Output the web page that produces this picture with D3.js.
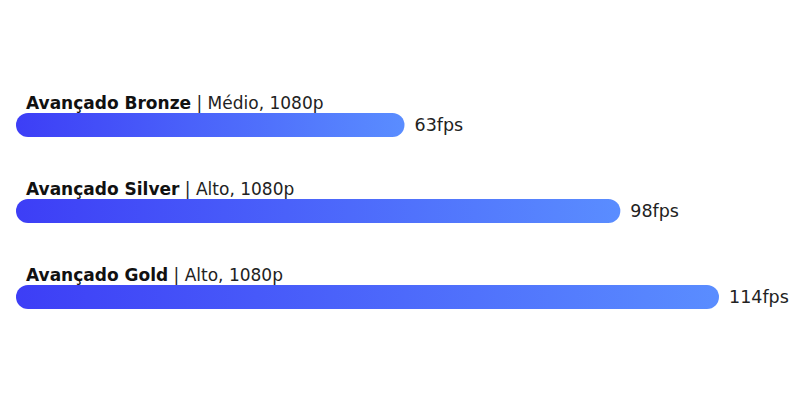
<!DOCTYPE html>
<html>
<head>
<meta charset="utf-8">
<script src="https://cdn.jsdelivr.net/npm/d3@7"></script>
<style>
  body { margin: 0; background: #fff; }
  text { font-family: "DejaVu Sans", sans-serif; fill: #111; }
</style>
</head>
<body>
<svg></svg>
<script>
const tiers = ["Avançado Bronze", "Avançado Silver", "Avançado Gold"];
const settings = ["Médio, 1080p", "Alto, 1080p", "Alto, 1080p"];
const fps = [63, 98, 114];

const width = 800, height = 400;
const svg = d3.select("svg")
    .attr("width", width)
    .attr("height", height);

// gradient shared by every bar (spans each bar's own box)
const grad = svg.append("defs").append("linearGradient")
    .attr("id", "barGrad")
    .attr("x1", "0%").attr("x2", "100%");
grad.append("stop").attr("offset", "0%").attr("stop-color", "#3d3ef6");
grad.append("stop").attr("offset", "100%").attr("stop-color", "#5a8dff");

const x = d3.scaleLinear().domain([0, 114]).range([16, 719]);
// one row every 86px, the bar sits at the top of each row
const y = d3.scaleBand().domain(tiers).range([113, 371]);
const barH = 24;

const rows = svg.selectAll(".row")
    .data(tiers)
  .enter().append("g")
    .attr("class", "row")
    .attr("transform", d => "translate(0," + y(d) + ")");

rows.append("rect")
    .attr("x", x(0))
    .attr("height", barH)
    .attr("rx", barH / 2)
    .attr("width", (d, i) => x(fps[i]) - x(0))
    .attr("fill", "url(#barGrad)");

const title = rows.append("text")
    .attr("x", 26)
    .attr("y", -4)
    .style("font-size", "17px");
title.append("tspan")
    .style("font-weight", "bold")
    .text(d => d);
title.append("tspan")
    .style("fill", "#222")
    .text((d, i) => " | " + settings[i]);

rows.append("text")
    .attr("x", (d, i) => x(fps[i]) + 10)
    .attr("y", barH / 2)
    .attr("dy", ".35em")
    .style("font-size", "17.5px")
    .style("fill", "#222")
    .text((d, i) => fps[i] + "fps");
</script>
</body>
</html>
